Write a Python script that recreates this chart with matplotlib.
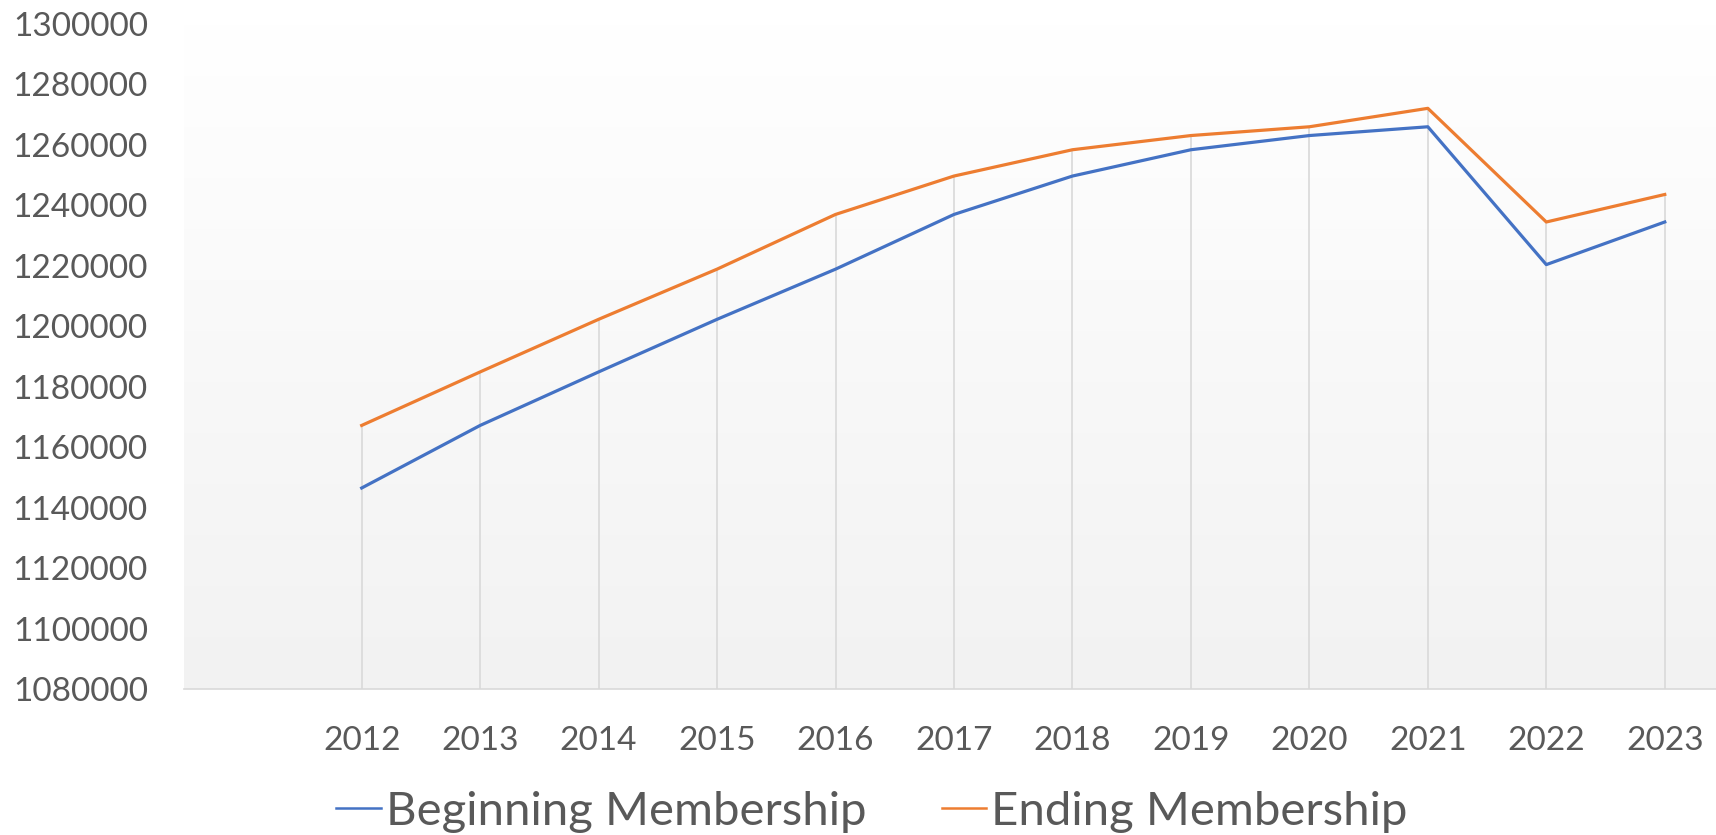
import numpy as np
import matplotlib
matplotlib.use("Agg")
import matplotlib.pyplot as plt
from matplotlib.colors import LinearSegmentedColormap

years = ["2012", "2013", "2014", "2015", "2016", "2017",
         "2018", "2019", "2020", "2021", "2022", "2023"]
beginning = [1146500, 1167200, 1184900, 1202300, 1218900, 1237000,
             1249700, 1258400, 1263100, 1266000, 1220400, 1234500]
ending = [1167200, 1184900, 1202300, 1218900, 1237000, 1249700,
          1258400, 1263100, 1266000, 1272100, 1234500, 1243600]
yticks = list(range(1080000, 1300001, 20000))

TEXT = "#595959"
GRID = "#d9d9d9"
FONT = "Lato"

plt.rcParams["font.family"] = [FONT, "DejaVu Sans"]

fig = plt.figure(figsize=(17.16, 8.35), dpi=100)
ax = fig.add_axes([184 / 1716, 146 / 835, 1540 / 1716, 665 / 835])

x = np.arange(len(years))
ax.set_xlim(-1.5, len(years) - 0.5)
ax.set_ylim(yticks[0], yticks[-1])

# plot area gradient, white at top to light grey at bottom
cmap = LinearSegmentedColormap.from_list("bg", ["#f2f2f2", "#ffffff"])
grad = np.linspace(0, 1, 256).reshape(-1, 1)
ax.imshow(grad, extent=[0, 1, 0, 1], transform=ax.transAxes, origin="lower",
          aspect="auto", cmap=cmap, zorder=0)

# drop lines from the highest point down to the axis
top = np.maximum(beginning, ending)
ax.vlines(x, yticks[0], top, color=GRID, lw=1.2, zorder=1)

ax.plot(x, beginning, color="#4472C4", lw=2.3, label="Beginning Membership", zorder=3)
ax.plot(x, ending, color="#ED7D31", lw=2.3, label="Ending Membership", zorder=3)

for s in ["top", "left", "right"]:
    ax.spines[s].set_visible(False)
ax.spines["bottom"].set_color(GRID)
ax.spines["bottom"].set_linewidth(1.2)

ax.set_xticks(x)
ax.set_xticklabels(years)
ax.set_yticks(yticks)
ax.set_yticklabels([str(v) for v in yticks])
ax.tick_params(axis="both", length=0, labelsize=24, colors=TEXT)
ax.tick_params(axis="x", pad=27)
ax.tick_params(axis="y", pad=26)

leg = fig.legend(loc="center", bbox_to_anchor=(0.508, 0.028), ncol=2, frameon=False,
                 fontsize=34, labelcolor=TEXT, handlelength=0.95, handletextpad=0.1,
                 columnspacing=1.6)
for h in leg.get_lines():
    h.set_linewidth(1.8)

fig.savefig("out.png", dpi=100)
